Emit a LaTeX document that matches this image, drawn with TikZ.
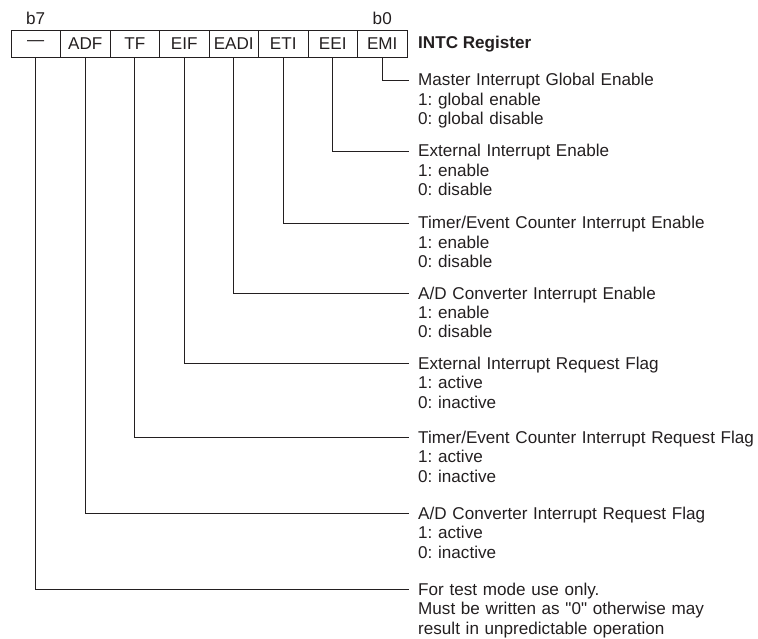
\documentclass[tikz,border=0pt]{standalone}
\usepackage{fontspec}
\setmainfont{Liberation Sans}[Ligatures=TeXOff]
\definecolor{ink}{HTML}{231F20}
\frenchspacing

\begin{document}
\begin{tikzpicture}[x=1pt, y=-1pt, ink,
    bitcell/.style ={draw, line width=0.9pt, minimum width=49.5pt, minimum height=27pt,
                     inner sep=0pt, font=\fontsize{17.1}{19.5}\selectfont},
    bitlabel/.style ={inner sep=0pt, font=\fontsize{17.1}{19.5}\selectfont},
    fielddesc/.style ={anchor=base west, inner sep=0pt, text width=340pt, align=left,
                       font=\fontsize{17.1}{19.5}\selectfont},
    lead/.style ={line width=0.9pt}]
   \useasboundingbox (0,0) rectangle (758,639);

   \node[bitlabel] (b7) at (35.75,18) {b7};
   \node[bitlabel] (b0) at (382.25,18) {b0};

   \node[bitcell] (D7)   at (35.75,43.5)  {\textemdash};
   \node[bitcell] (ADF)  at (85.25,43.5)  {ADF};
   \node[bitcell] (TF)   at (134.75,43.5) {TF};
   \node[bitcell] (EIF)  at (184.25,43.5) {EIF};
   \node[bitcell] (EADI) at (233.75,43.5) {EADI};
   \node[bitcell] (ETI)  at (283.25,43.5) {ETI};
   \node[bitcell] (EEI)  at (332.75,43.5) {EEI};
   \node[bitcell] (EMI)  at (382.25,43.5) {EMI};
   \node[bitlabel, anchor=west, font=\fontsize{17.1}{19.5}\selectfont\bfseries] (reg) at (418,44) {INTC Register};

   % free ends of the leads
   \coordinate (eEMI)  at (409,80);
   \coordinate (eEEI)  at (409,151);
   \coordinate (eETI)  at (409,223);
   \coordinate (eEADI) at (409,293);
   \coordinate (eEIF)  at (409,363);
   \coordinate (eTF)   at (409,437);
   \coordinate (eADF)  at (409,513);
   \coordinate (eD7)   at (409,589);

   \node[fielddesc] (tEMI)  at (418,86)  {Master Interrupt Global Enable\\1: global enable\\0: global disable};
   \node[fielddesc] (tEEI)  at (418,157) {External Interrupt Enable\\1: enable\\0: disable};
   \node[fielddesc] (tETI)  at (418,229) {Timer/Event Counter Interrupt Enable\\1: enable\\0: disable};
   \node[fielddesc] (tEADI) at (418,299) {A/D Converter Interrupt Enable\\1: enable\\0: disable};
   \node[fielddesc] (tEIF)  at (418,369) {External Interrupt Request Flag\\1: active\\0: inactive};
   \node[fielddesc] (tTF)   at (418,443) {Timer/Event Counter Interrupt Request Flag\\1: active\\0: inactive};
   \node[fielddesc] (tADF)  at (418,519) {A/D Converter Interrupt Request Flag\\1: active\\0: inactive};
   \node[fielddesc] (tD7)   at (418,595) {For test mode use only.\\Must be written as "0" otherwise may\\result in unpredictable operation};

   \draw[lead] (EMI.south)  |- (eEMI);
   \draw[lead] (EEI.south)  |- (eEEI);
   \draw[lead] (ETI.south)  |- (eETI);
   \draw[lead] (EADI.south) |- (eEADI);
   \draw[lead] (EIF.south)  |- (eEIF);
   \draw[lead] (TF.south)   |- (eTF);
   \draw[lead] (ADF.south)  |- (eADF);
   \draw[lead] (D7.south)   |- (eD7);
 \end{tikzpicture}
\end{document}
